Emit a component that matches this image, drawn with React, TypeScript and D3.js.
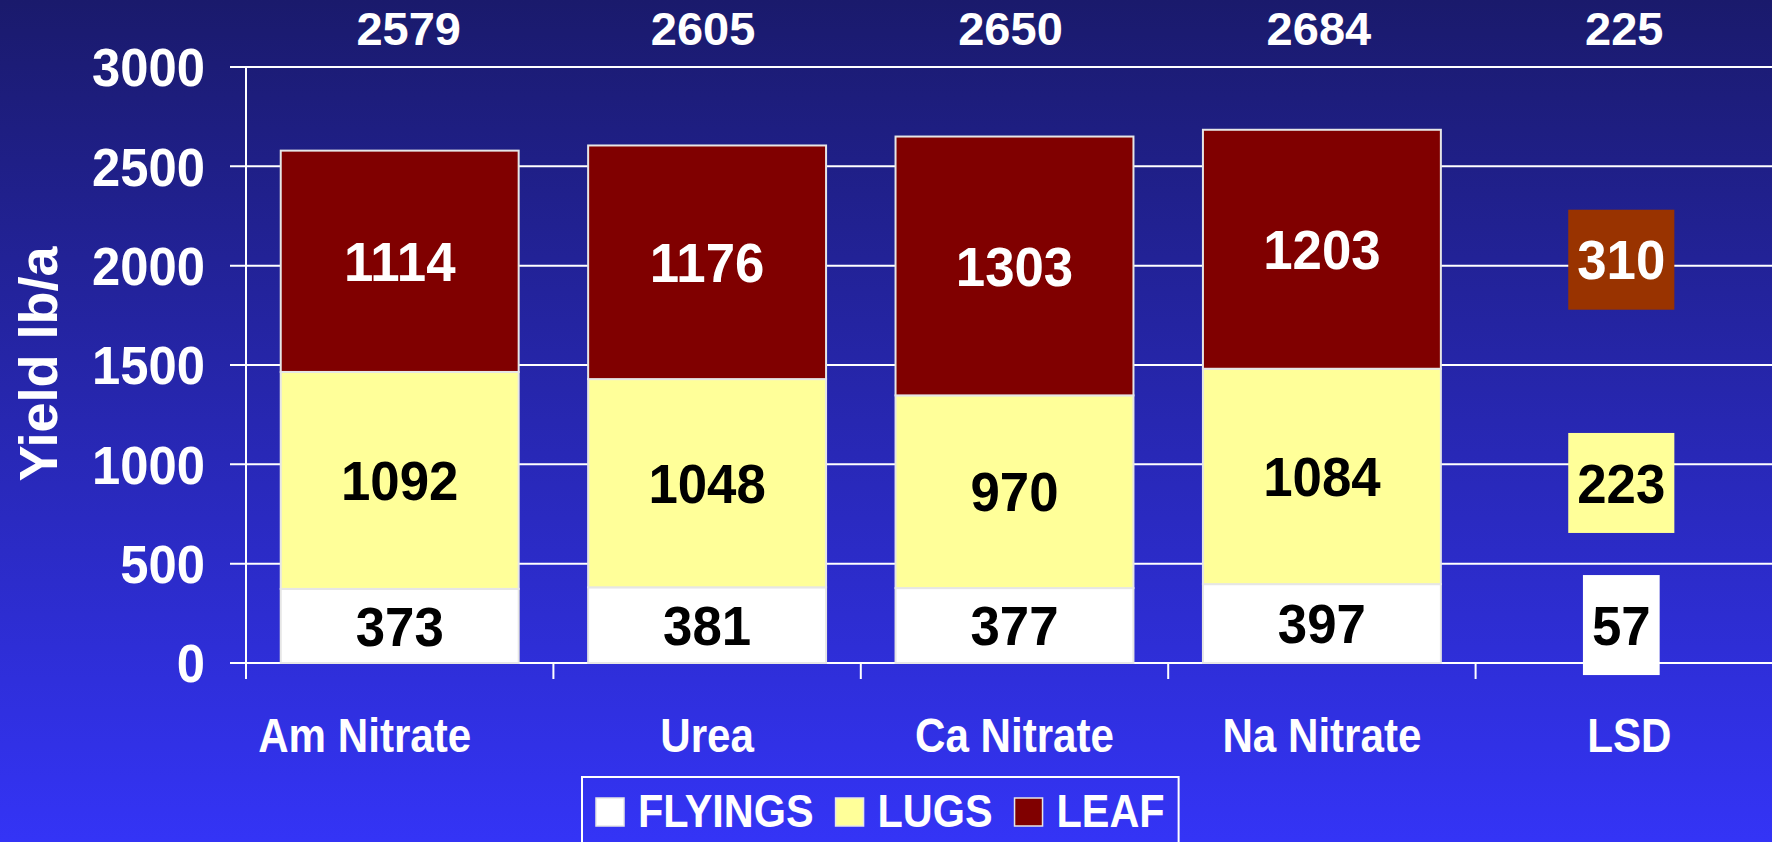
import React, { useEffect, useRef } from "react"
import * as d3 from "d3"

// chart data
const categories = ["Am Nitrate", "Urea", "Ca Nitrate", "Na Nitrate", "LSD"]
const treatments = ["Am Nitrate", "Urea", "Ca Nitrate", "Na Nitrate"]
const flyings = [373, 381, 377, 397]
const lugs = [1092, 1048, 970, 1084]
const leaf = [1114, 1176, 1303, 1203]
const totals = [2579, 2605, 2650, 2684, 225]
const lsd = [57, 223, 310] // flyings, lugs, leaf
const seriesKeys = ["flyings", "lugs", "leaf"]
const seriesNames = ["FLYINGS", "LUGS", "LEAF"]
const seriesColors = ["#ffffff", "#ffff99", "#800000"]
const labelColors = ["#000000", "#000000", "#ffffff"]
const lsdColors = ["#ffffff", "#ffff99", "#993300"]
const yTicks = [0, 500, 1000, 1500, 2000, 2500, 3000]

// hand nudges of the labels, as in the slide
const catLabelShift = [-35, 0, 0, 0, 0]
const totalShift = [9, -4, -4, -3, -5]

const W = 1772
const H = 842
const FONT = "'Liberation Sans', Arial, Helvetica, sans-serif"

export default function App() {
  const ref = useRef<SVGSVGElement>(null)

  useEffect(() => {
    const svg = d3.select(ref.current)
    svg.selectAll("*").remove()
    svg.attr("font-family", FONT).attr("font-weight", "bold")

    const grad = svg.append("defs").append("linearGradient")
      .attr("id", "bg").attr("x1", 0).attr("y1", 0).attr("x2", 0).attr("y2", 1)
    grad.append("stop").attr("offset", "0%").attr("stop-color", "#1a1a6c")
    grad.append("stop").attr("offset", "100%").attr("stop-color", "#3434f6")
    svg.append("rect").attr("width", W).attr("height", H).attr("fill", "url(#bg)")

    const left = 246
    const right = 1783
    const x = d3.scaleBand().domain(categories).range([left, right])
      .paddingInner(0.226).paddingOuter(0.113)
    const y = d3.scaleLinear().domain([0, 3000]).range([663, 67])
    const bw = x.bandwidth()
    const step = x.step()

    // gridlines (with the little tick on the left)
    svg.append("g").selectAll("line").data(yTicks).join("line")
      .attr("x1", left - 16).attr("x2", right)
      .attr("y1", d => y(d)).attr("y2", d => y(d))
      .attr("stroke", "#fff").attr("stroke-width", 2)

    // y tick labels
    svg.append("g").selectAll("text").data(yTicks).join("text")
      .attr("transform", d => `translate(205,${y(d) + 0.358 * 54}) scale(0.94,1)`)
      .attr("text-anchor", "end").attr("fill", "#fff").attr("font-size", 54)
      .text(d => d)

    // axis line + category ticks
    svg.append("line").attr("x1", left).attr("x2", left)
      .attr("y1", y(3000)).attr("y2", y(0) + 16)
      .attr("stroke", "#fff").attr("stroke-width", 2)
    svg.append("g").selectAll("line").data(categories.slice(1)).join("line")
      .attr("x1", d => x(d)! - x.paddingOuter() * step)
      .attr("x2", d => x(d)! - x.paddingOuter() * step)
      .attr("y1", y(0)).attr("y2", y(0) + 16)
      .attr("stroke", "#fff").attr("stroke-width", 2)

    // stacked bars
    const rows = treatments.map((t, i) => ({ cat: t, flyings: flyings[i], lugs: lugs[i], leaf: leaf[i] }))
    const stacked = d3.stack<any>().keys(seriesKeys)(rows)
    stacked.forEach((s, k) => {
      const g = svg.append("g")
      g.selectAll("rect").data(s).join("rect")
        .attr("x", d => x(d.data.cat)!).attr("width", bw)
        .attr("y", d => y(d[1])).attr("height", d => y(d[0]) - y(d[1]))
        .attr("fill", seriesColors[k]).attr("stroke", "#e6e6e6").attr("stroke-width", 2)
      g.selectAll("text").data(s).join("text")
        .attr("transform", d => `translate(${x(d.data.cat)! + bw / 2},${(y(d[0]) + y(d[1])) / 2 + 0.358 * 55}) scale(0.96,1)`)
        .attr("text-anchor", "middle").attr("font-size", 55).attr("fill", labelColors[k])
        .text(d => d[1] - d[0])
    })

    // LSD labels, placed at the mean segment midpoints
    const means = seriesKeys.map(k => d3.mean(rows, (r: any) => r[k]) as number)
    let base = 0
    const mids = means.map(m => { const c = base + m / 2; base += m; return c })
    const lsdX = x("LSD")! + bw / 2 - 8
    lsd.forEach((v, k) => {
      const g = svg.append("g")
      const cy = y(mids[k])
      const rect = g.append("rect")
      const t = g.append("text")
        .attr("transform", `translate(${lsdX},${cy + 0.358 * 55}) scale(0.96,1)`)
        .attr("text-anchor", "middle").attr("font-size", 55).attr("fill", labelColors[k])
        .text(v)
      const tw = (t.node() as SVGTextElement).getComputedTextLength() * 0.96
      rect.attr("x", lsdX - tw / 2 - 9).attr("width", tw + 18)
        .attr("y", cy - 50).attr("height", 100).attr("fill", lsdColors[k])
    })

    // totals on top
    svg.append("g").selectAll("text").data(categories).join("text")
      .attr("x", (d, i) => x(d)! + bw / 2 + totalShift[i]).attr("y", 45)
      .attr("text-anchor", "middle").attr("font-size", 47).attr("fill", "#fff")
      .text((d, i) => totals[i])

    // category labels
    svg.append("g").selectAll("text").data(categories).join("text")
      .attr("transform", (d, i) => `translate(${x(d)! + bw / 2 + catLabelShift[i]},752) scale(0.86,1)`)
      .attr("text-anchor", "middle").attr("font-size", 49).attr("fill", "#fff")
      .text(d => d)

    // y axis title
    svg.append("text").attr("transform", "translate(57,364) rotate(-90)")
      .attr("text-anchor", "middle").attr("font-size", 54).attr("fill", "#fff")
      .text("Yield lb/a")

    // legend
    const lg = svg.append("g")
    const lgBox = lg.append("rect")
    let lx = 596
    seriesNames.forEach((name, k) => {
      lg.append("rect").attr("x", lx).attr("y", 798).attr("width", 28).attr("height", 28)
        .attr("fill", seriesColors[k]).attr("stroke", "#e6e6e6").attr("stroke-width", 1.5)
      const t = lg.append("text")
        .attr("transform", `translate(${lx + 42},827) scale(0.9,1)`)
        .attr("font-size", 46).attr("fill", "#fff").text(name)
      const tw = (t.node() as SVGTextElement).getComputedTextLength() * 0.9
      lx += 42 + tw + (k < seriesNames.length - 1 ? 22 : 14)
    })
    lgBox.attr("x", 582).attr("y", 777).attr("width", lx - 582).attr("height", 100)
      .attr("fill", "none").attr("stroke", "#fff").attr("stroke-width", 2)
  }, [])

  return (
    <svg ref={ref} width={W} height={H}
      style={{ position: "absolute", left: 0, top: 0, display: "block" }} />
  )
}
